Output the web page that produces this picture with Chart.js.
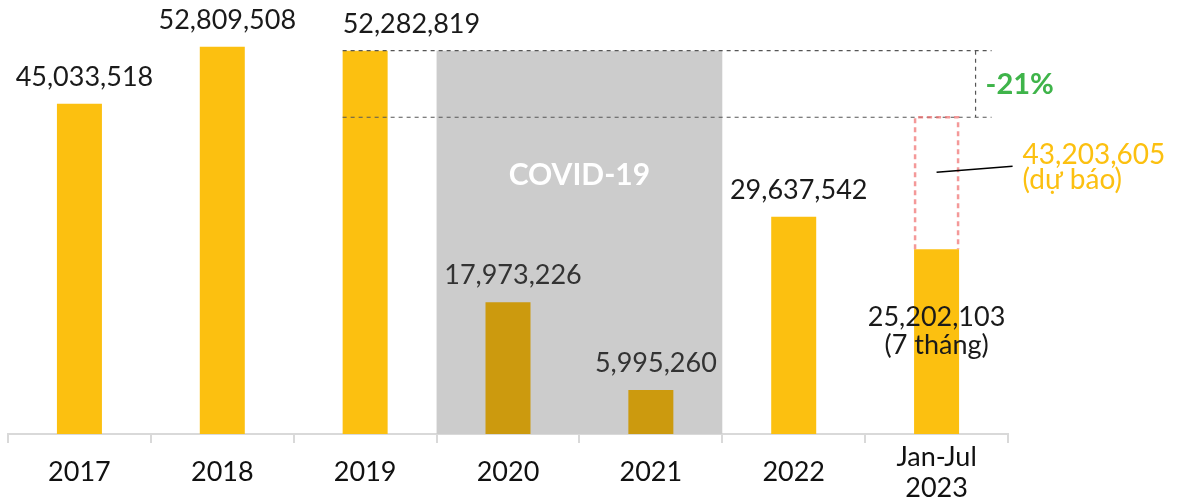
<!DOCTYPE html>
<html>
<head>
<meta charset="utf-8">
<script src="https://cdn.jsdelivr.net/npm/chart.js@4"></script>
<style>
html, body { margin: 0; padding: 0; background: #fff; }
</style>
</head>
<body>
<canvas id="visitorsChart" width="1182" height="501"></canvas>
<script>
// Data
const categories = ['2017', '2018', '2019', '2020', '2021', '2022', ['Jan-Jul', '2023']];
const visitors = [45033518, 52809508, 52282819, 17973226, 5995260, 29637542, 25202103];
const covidYears = [false, false, false, true, true, false, false];
const forecast2023 = 43203605;
const forecastNote = '(dự báo)';
const partialNote = '(7 tháng)';
const changeLabel = '-21%';
const bandLabel = 'COVID-19';

const FONT = 'Lato, "Noto Sans", sans-serif';
const YELLOW = '#FCC010';
const DARK_GOLD = '#CC9A0E';

function fmt(v) {
    return v.toLocaleString('en-US');
}

// ============================================
// OVERLAY PLUGIN (band, labels, dashed guides)
// ============================================

const overlayPlugin = {
    id: 'overlay',
    beforeDatasetsDraw(chart) {
        const { ctx, scales: { x, y } } = chart;
        const first = covidYears.indexOf(true);
        const last = covidYears.lastIndexOf(true);
        const half = (x.getPixelForValue(1) - x.getPixelForValue(0)) / 2;
        const left = x.getPixelForValue(first) - half;
        const right = x.getPixelForValue(last) + half;
        const top = y.getPixelForValue(visitors[first - 1]);
        const bottom = y.getPixelForValue(0);

        ctx.save();
        ctx.fillStyle = '#cccccc';
        ctx.fillRect(left, top, right - left, bottom - top);
        ctx.fillStyle = '#ffffff';
        ctx.font = 'bold 30px ' + FONT;
        ctx.textAlign = 'center';
        ctx.textBaseline = 'alphabetic';
        ctx.fillText(bandLabel, (left + right) / 2, top + 134);
        ctx.restore();
    },
    afterDatasetsDraw(chart) {
        const { ctx, scales: { y } } = chart;
        const bars = chart.getDatasetMeta(0).data;
        const lastIdx = visitors.length - 1;

        ctx.save();
        ctx.font = '27px ' + FONT;
        ctx.textBaseline = 'alphabetic';

        // value labels
        bars.forEach((bar, i) => {
            ctx.fillStyle = covidYears[i] ? '#333333' : '#1a1a1a';
            if (i === lastIdx) {
                ctx.textAlign = 'center';
                ctx.fillText(fmt(visitors[i]), bar.x, bar.y + 77);
                ctx.fillText(partialNote, bar.x, bar.y + 105);
            } else if (i === 2) {
                ctx.textAlign = 'left';
                ctx.fillText(fmt(visitors[i]), bar.x - bar.width / 2, bar.y - 18);
            } else {
                ctx.textAlign = 'center';
                ctx.fillText(fmt(visitors[i]), bar.x + 5, bar.y - 18);
            }
        });

        // dashed comparison guides (2019 vs forecast)
        const ref = bars[2];
        const lastBar = bars[lastIdx];
        const yTop = y.getPixelForValue(visitors[2]);
        const yBot = y.getPixelForValue(forecast2023);
        const xStart = ref.x - ref.width / 2;
        const xEnd = lastBar.x + 55;
        const xVert = lastBar.x + 39;

        ctx.strokeStyle = '#555555';
        ctx.lineWidth = 1.2;
        ctx.setLineDash([4, 4]);
        ctx.beginPath();
        ctx.moveTo(xStart, yTop); ctx.lineTo(xEnd, yTop);
        ctx.moveTo(xStart, yBot); ctx.lineTo(xEnd, yBot);
        ctx.moveTo(xVert, yTop); ctx.lineTo(xVert, yBot);
        ctx.stroke();

        // forecast outline
        const bl = lastBar.x - lastBar.width / 2 + 1;
        const br = lastBar.x + lastBar.width / 2 - 1;
        ctx.strokeStyle = 'rgba(240, 110, 110, 0.7)';
        ctx.lineWidth = 2.5;
        ctx.setLineDash([5, 4]);
        ctx.beginPath();
        ctx.moveTo(bl, lastBar.y);
        ctx.lineTo(bl, yBot);
        ctx.lineTo(br, yBot);
        ctx.lineTo(br, lastBar.y);
        ctx.stroke();

        // leader line
        ctx.setLineDash([]);
        ctx.strokeStyle = '#000000';
        ctx.lineWidth = 1.5;
        ctx.beginPath();
        ctx.moveTo(lastBar.x, yBot + 55);
        ctx.lineTo(lastBar.x + 76, yBot + 49);
        ctx.stroke();

        // forecast label
        ctx.fillStyle = YELLOW;
        ctx.textAlign = 'left';
        ctx.font = '28px ' + FONT;
        ctx.fillText(fmt(forecast2023), lastBar.x + 86, yBot + 47);
        ctx.fillText(forecastNote, lastBar.x + 86, yBot + 72);

        // change label
        ctx.fillStyle = '#3FB44A';
        ctx.font = 'bold 29px ' + FONT;
        ctx.fillText(changeLabel, xVert + 10, (yTop + yBot) / 2 + 10);
        ctx.restore();
    }
};

// ============================================
// CHART
// ============================================

const ctx = document.getElementById('visitorsChart');

new Chart(ctx, {
    type: 'bar',
    data: {
        labels: categories,
        datasets: [{
            label: 'Visitors',
            data: visitors,
            backgroundColor: covidYears.map(c => c ? DARK_GOLD : YELLOW),
            borderWidth: 0,
            categoryPercentage: 1,
            barPercentage: 0.315
        }]
    },
    options: {
        responsive: false,
        animation: false,
        layout: {
            padding: { left: 8, right: 174, top: 0, bottom: 0 }
        },
        plugins: {
            legend: { display: false },
            tooltip: { enabled: false }
        },
        scales: {
            y: {
                display: false,
                min: 0,
                max: 59200000
            },
            x: {
                offset: true,
                afterFit(scale) {
                    scale.height = 67;
                },
                grid: {
                    display: true,
                    drawOnChartArea: false,
                    drawTicks: true,
                    tickLength: 9,
                    color: '#d9d9d9',
                    lineWidth: 2
                },
                border: {
                    display: true,
                    color: '#d9d9d9',
                    width: 2
                },
                ticks: {
                    color: '#111111',
                    autoSkip: false,
                    maxRotation: 0,
                    padding: 14,
                    crossAlign: 'center',
                    font: { family: FONT, size: 27, lineHeight: '31px' }
                }
            }
        }
    },
    plugins: [overlayPlugin]
});
</script>
</body>
</html>
